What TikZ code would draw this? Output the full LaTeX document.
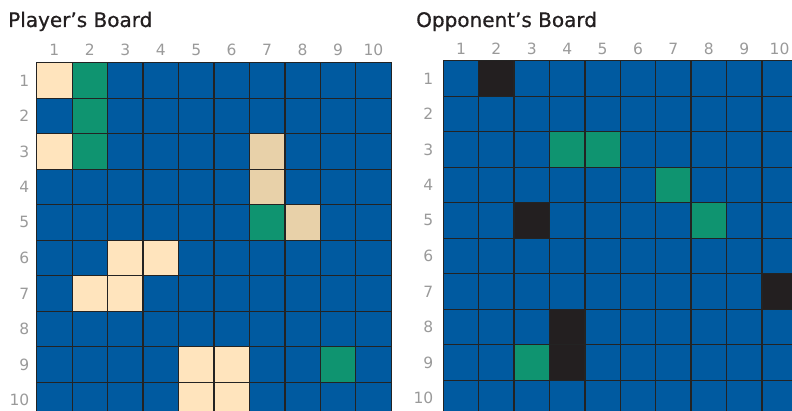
\documentclass[tikz,border=0pt]{standalone}
\usepackage{fontspec}
\setmainfont{DejaVu Sans}
\newfontfamily\titlefont{DejaVu Sans}[FakeBold=0.7]
\usetikzlibrary{positioning}

\definecolor{sea}{HTML}{005AA0}
\definecolor{hit}{HTML}{0F9470}
\definecolor{ship}{HTML}{FFE4BD}
\definecolor{shipb}{HTML}{E8D1A9}
\definecolor{miss}{HTML}{231F20}
\definecolor{gridln}{HTML}{232323}
\definecolor{lbl}{HTML}{9A9A9A}

\providecommand{\cellpaint}[2]{\expandafter\gdef\csname #1\endcsname{#2}}

% player's board
\cellpaint{p-1-1}{ship}  \cellpaint{p-1-2}{hit}
\cellpaint{p-2-2}{hit}
\cellpaint{p-3-1}{ship}  \cellpaint{p-3-2}{hit}   \cellpaint{p-3-7}{shipb}
\cellpaint{p-4-7}{shipb}
\cellpaint{p-5-7}{hit}   \cellpaint{p-5-8}{shipb}
\cellpaint{p-6-3}{ship}  \cellpaint{p-6-4}{ship}
\cellpaint{p-7-2}{ship}  \cellpaint{p-7-3}{ship}
\cellpaint{p-9-5}{ship}  \cellpaint{p-9-6}{ship}  \cellpaint{p-9-9}{hit}
\cellpaint{p-10-5}{ship} \cellpaint{p-10-6}{ship}
% opponent's board
\cellpaint{o-1-2}{miss}
\cellpaint{o-3-4}{hit}   \cellpaint{o-3-5}{hit}
\cellpaint{o-4-7}{hit}
\cellpaint{o-5-3}{miss}  \cellpaint{o-5-8}{hit}
\cellpaint{o-7-10}{miss}
\cellpaint{o-8-4}{miss}
\cellpaint{o-9-3}{hit}   \cellpaint{o-9-4}{miss}

\begin{document}
\begin{tikzpicture}[
  x=1pt, y=-1pt,
  title/.style={anchor=base west, inner sep=0pt, font=\titlefont\fontsize{20}{24}\selectfont, text=miss},
  num/.style={inner sep=0pt, font=\fontsize{15.5}{18}\selectfont, text=lbl},
  cell/.style={draw=gridln, line width=1.3pt, inner sep=0pt,
               minimum width=35.45pt, minimum height=35.5pt},
]
\clip (0,0) rectangle (792,411);

% ---------------- titles ----------------
\node[title] (tPlayer) at (8,27) {Player’s Board};
\node[title] (tOpp)    at (416,27) {Opponent’s Board};

% ---------------- player's board ----------------
\foreach \r in {1,...,10}{
  \foreach \c in {1,...,10}{
    \edef\fc{\ifcsname p-\r-\c\endcsname\csname p-\r-\c\endcsname\else sea\fi}
    \node[cell, fill=\fc] (p-\r-\c) at ({36.7+(\c-0.5)*35.45},{62.7+(\r-0.5)*35.5}) {};
  }
}
\foreach \i in {1,...,10}{
  \node[num, above=6pt of p-1-\i] (pcol-\i) {\i};
  \node[num, left=6.6pt of p-\i-1] (prow-\i) {\i};
}

% ---------------- opponent's board ----------------
\foreach \r in {1,...,10}{
  \foreach \c in {1,...,10}{
    \edef\fc{\ifcsname o-\r-\c\endcsname\csname o-\r-\c\endcsname\else sea\fi}
    \node[cell, fill=\fc, minimum width=35.4pt] (o-\r-\c) at ({443.3+(\c-0.5)*35.4},{60.7+(\r-0.5)*35.5}) {};
  }
}
\foreach \i in {1,...,10}{
  \node[num, above=5.6pt of o-1-\i] (ocol-\i) {\i};
  \node[num, left=9.2pt of o-\i-1] (orow-\i) {\i};
}

\end{tikzpicture}
\end{document}
